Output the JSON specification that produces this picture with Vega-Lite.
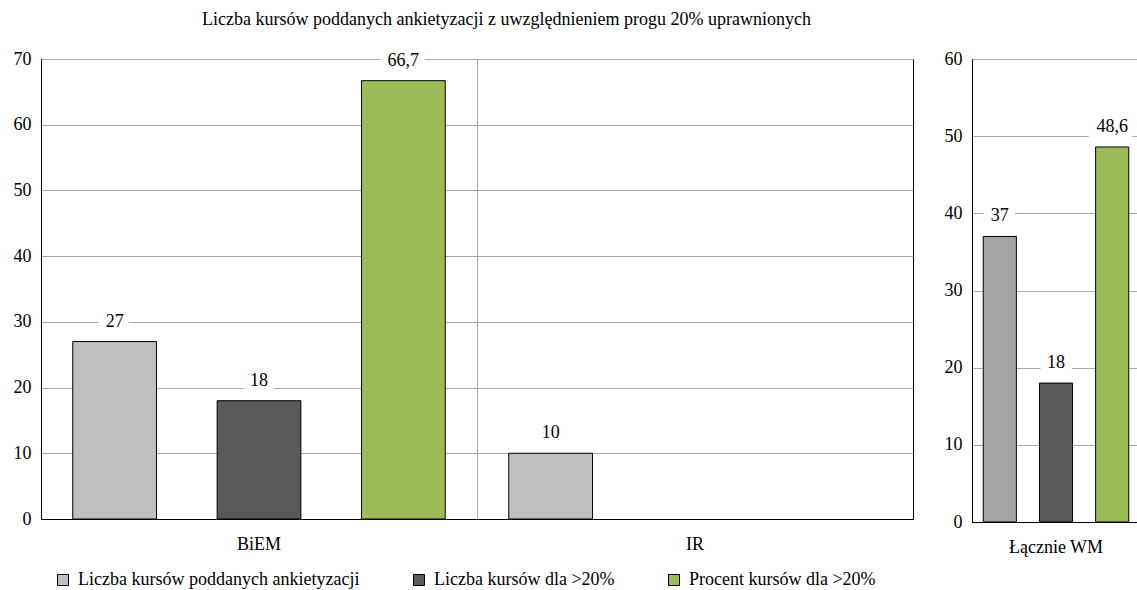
{
  "$schema": "https://vega.github.io/schema/vega-lite/v6.json",
  "padding": {"left": 12, "top": 10, "right": 0, "bottom": 0},
  "background": "white",
  "title": {"text": "Liczba kursów poddanych ankietyzacji z uwzględnieniem progu 20% uprawnionych", "font": "Liberation Serif", "fontSize": 18, "fontWeight": "normal", "color": "black", "anchor": "middle", "dx": -70, "offset": 21},
  "datasets": {
    "left": [
      {"group": "BiEM", "series": "Liczba kursów poddanych ankietyzacji", "value": 27, "label": "27"},
      {"group": "BiEM", "series": "Liczba kursów dla >20%", "value": 18, "label": "18"},
      {"group": "BiEM", "series": "Procent kursów dla >20%", "value": 66.7, "label": "66,7"},
      {"group": "IR", "series": "Liczba kursów poddanych ankietyzacji", "value": 10, "label": "10"}
    ],
    "right": [
      {"group": "Łącznie WM", "series": "Liczba kursów poddanych ankietyzacji", "value": 37, "label": "37"},
      {"group": "Łącznie WM", "series": "Liczba kursów dla >20%", "value": 18, "label": "18"},
      {"group": "Łącznie WM", "series": "Procent kursów dla >20%", "value": 48.6, "label": "48,6"}
    ]
  },
  "config": {
    "font": "Liberation Serif",
    "view": {"stroke": "black", "strokeWidth": 1},
    "axis": {"labelFont": "Liberation Serif", "labelFontSize": 18, "labelColor": "black", "ticks": false, "domainColor": "black", "domainWidth": 1, "gridColor": "#A6A6A6", "gridWidth": 1, "title": null},
    "axisX": {"labelPadding": 16, "labelAngle": 0},
    "axisY": {"labelPadding": 10}
  },
  "spacing": 29,
  "resolve": {"scale": {"color": "independent", "xOffset": "independent", "x": "independent", "y": "independent"}},
  "hconcat": [
    {
      "width": 872,
      "height": 460,
      "data": {"name": "left"},
      "encoding": {
        "x": {"field": "group", "type": "nominal", "scale": {"domain": ["BiEM", "IR"], "paddingInner": 0, "paddingOuter": 0}, "axis": {"grid": true, "bandPosition": 0}},
        "xOffset": {"field": "series", "type": "nominal", "scale": {"domain": ["Liczba kursów poddanych ankietyzacji", "Liczba kursów dla >20%", "Procent kursów dla >20%"], "paddingInner": 0.42, "paddingOuter": 0.22}},
        "y": {"field": "value", "type": "quantitative", "scale": {"domain": [0, 70], "nice": false}, "axis": {"values": [0, 10, 20, 30, 40, 50, 60, 70], "grid": true}}
      },
      "layer": [
        {
          "mark": {"type": "bar", "stroke": "black", "strokeWidth": 1},
          "encoding": {
            "color": {"field": "series", "type": "nominal", "scale": {"domain": ["Liczba kursów poddanych ankietyzacji", "Liczba kursów dla >20%", "Procent kursów dla >20%"], "range": ["#BFBFBF", "#595959", "#9BBB59"]},
              "legend": {"title": null, "orient": "none", "legendX": 13, "legendY": 512, "direction": "horizontal", "symbolType": "square", "symbolSize": 121, "symbolStrokeColor": "black", "symbolStrokeWidth": 1, "labelFont": "Liberation Serif", "labelFontSize": 18, "labelColor": "black", "labelLimit": 500, "columnPadding": 50, "labelOffset": 6}}
          }
        },
        {
          "mark": {"type": "text", "dy": -20, "baseline": "middle", "fontSize": 18, "font": "Liberation Serif", "stroke": "white", "strokeWidth": 16, "fill": "white"},
          "encoding": {"text": {"field": "label"}}
        },
        {
          "mark": {"type": "text", "dy": -20, "baseline": "middle", "fontSize": 18, "font": "Liberation Serif", "color": "black"},
          "encoding": {"text": {"field": "label"}}
        }
      ]
    },
    {
      "width": 168,
      "height": 463,
      "data": {"name": "right"},
      "encoding": {
        "x": {"field": "group", "type": "nominal", "scale": {"paddingInner": 0, "paddingOuter": 0}, "axis": {"grid": false}},
        "xOffset": {"field": "series", "type": "nominal", "scale": {"domain": ["Liczba kursów poddanych ankietyzacji", "Liczba kursów dla >20%", "Procent kursów dla >20%"], "paddingInner": 0.41, "paddingOuter": 0.2}},
        "y": {"field": "value", "type": "quantitative", "scale": {"domain": [0, 60], "nice": false}, "axis": {"values": [0, 10, 20, 30, 40, 50, 60], "grid": true}}
      },
      "layer": [
        {
          "mark": {"type": "bar", "stroke": "black", "strokeWidth": 1},
          "encoding": {
            "color": {"field": "series", "type": "nominal", "scale": {"domain": ["Liczba kursów poddanych ankietyzacji", "Liczba kursów dla >20%", "Procent kursów dla >20%"], "range": ["#A5A5A5", "#595959", "#9BBB59"]}, "legend": null}
          }
        },
        {
          "mark": {"type": "text", "dy": -20, "baseline": "middle", "fontSize": 18, "font": "Liberation Serif", "stroke": "white", "strokeWidth": 16, "fill": "white"},
          "encoding": {"text": {"field": "label"}}
        },
        {
          "mark": {"type": "text", "dy": -20, "baseline": "middle", "fontSize": 18, "font": "Liberation Serif", "color": "black"},
          "encoding": {"text": {"field": "label"}}
        }
      ]
    }
  ]
}
